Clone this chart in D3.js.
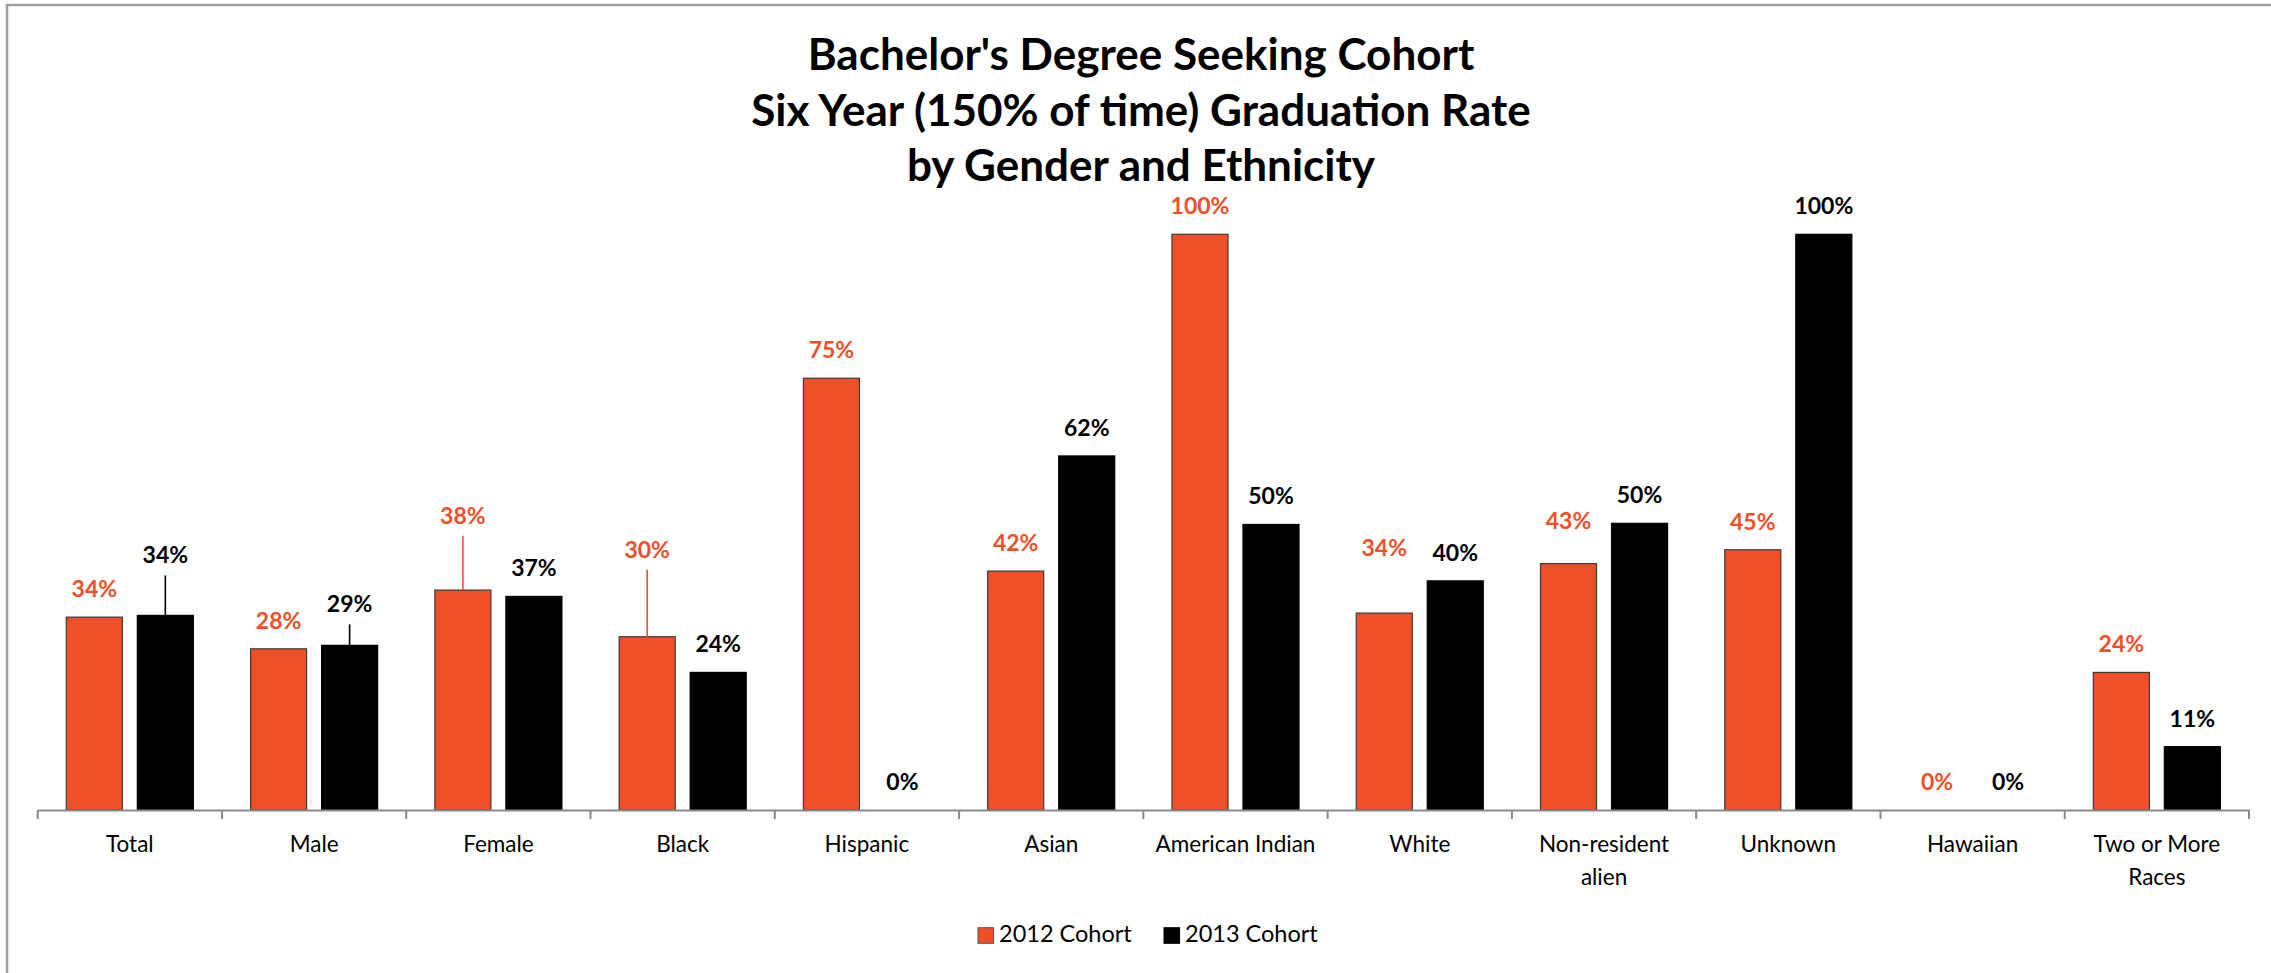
<!DOCTYPE html>
<html>
<head>
<meta charset="utf-8">
<script src="https://cdn.jsdelivr.net/npm/d3@7"></script>
<style>
  html, body { margin: 0; padding: 0; background: #fff; }
  svg { display: block; }
  text { font-family: Lato, "Open Sans", "Liberation Sans", sans-serif; }
</style>
</head>
<body>
<svg id="chart" width="2271" height="973"></svg>
<script>
// ---- data ----
const titleLines = ["Bachelor's Degree Seeking Cohort", "Six Year (150% of time) Graduation Rate", "by Gender and Ethnicity"];
const categories = ["Total", "Male", "Female", "Black", "Hispanic", "Asian", "American Indian", "White", "Non-resident\nalien", "Unknown", "Hawaiian", "Two or More\nRaces"];
const seriesNames = ["2012 Cohort", "2013 Cohort"];
const values2012 = [33.5, 28.0, 38.2, 30.1, 75, 41.5, 100, 34.2, 42.8, 45.2, 0, 23.9];
const values2013 = [33.8, 28.6, 37.1, 23.9, 0, 61.5, 49.6, 39.8, 49.8, 100, 0, 11];
const yDomain = [0, 100];

// ---- styles / layout ----
const colors = { "2012 Cohort": "#F04F28", "2013 Cohort": "#000000" };
const strokes = { "2012 Cohort": "#3a3a3a", "2013 Cohort": "#000000" };
// labels that were dragged above their bars (pixels of lift, whether a leader line is drawn)
const liftedLabels = {
  "2013 Cohort|Total": { lift: 32, leader: true },
  "2013 Cohort|Male": { lift: 13, leader: true },
  "2012 Cohort|Female": { lift: 46, leader: true },
  "2012 Cohort|Black": { lift: 59, leader: true },
  "2012 Cohort|White": { lift: 37, leader: false },
  "2012 Cohort|Non-resident\nalien": { lift: 15, leader: false }
};

const svg = d3.select("#chart");
const W = 2271, H = 973;

// chart frame (right and bottom edges fall outside the picture)
svg.append("rect")
  .attr("x", 7).attr("y", 5)
  .attr("width", W + 20).attr("height", H + 20)
  .attr("fill", "#fff")
  .attr("stroke", "#a0a0a0").attr("stroke-width", 2.5);

const x0 = d3.scaleBand().domain(categories).range([37.7, 2249]).padding(0);
const x1 = d3.scaleBand().domain(seriesNames).range([0, x0.bandwidth()])
  .paddingInner(0.211).paddingOuter(0.403);
const y = d3.scaleLinear().domain(yDomain).range([810, 234.3]);

const data = categories.map((c, i) => ({
  category: c,
  values: [
    { series: seriesNames[0], value: values2012[i] },
    { series: seriesNames[1], value: values2013[i] }
  ]
}));

// title (one text element per line)
svg.append("g").selectAll("text")
  .data(titleLines).join("text")
  .attr("x", 1141)
  .attr("y", (d, i) => 70 + i * 55.5)
  .attr("text-anchor", "middle")
  .attr("font-weight", 700)
  .attr("font-size", 44)
  .attr("fill", "#000")
  .text(d => d);

// bars
const groups = svg.append("g").selectAll("g.cat")
  .data(data).join("g")
  .attr("class", "cat")
  .attr("transform", d => `translate(${x0(d.category)},0)`);

groups.selectAll("rect")
  .data(d => d.values.map(v => Object.assign({ category: d.category }, v)))
  .join("rect")
  .attr("x", d => x1(d.series))
  .attr("width", x1.bandwidth())
  .attr("y", d => y(d.value))
  .attr("height", d => y(0) - y(d.value))
  .attr("fill", d => colors[d.series])
  .attr("stroke", d => d.value > 0 ? strokes[d.series] : "none")
  .attr("stroke-width", 1.2);

// data labels + leader lines
groups.each(function(d) {
  const g = d3.select(this);
  d.values.forEach(v => {
    const key = v.series + "|" + d.category;
    const info = liftedLabels[key];
    const cx = x1(v.series) + x1.bandwidth() / 2;
    const top = y(v.value);
    const baseline = top - 20 - (info ? info.lift : 0);
    if (info && info.leader) {
      g.append("line")
        .attr("x1", cx).attr("x2", cx)
        .attr("y1", baseline + 12).attr("y2", top)
        .attr("stroke", colors[v.series]).attr("stroke-width", 1.6);
    }
    g.append("text")
      .attr("x", cx).attr("y", baseline)
      .attr("text-anchor", "middle")
      .attr("font-weight", 700)
      .attr("font-size", 23)
      .attr("fill", colors[v.series])
      .text(d3.format(".0f")(v.value) + "%");
  });
});

// x axis
const axis = svg.append("g")
  .attr("transform", `translate(0,${y(0)})`)
  .call(d3.axisBottom(x0).tickSize(0).tickPadding(0).tickFormat(""));
axis.select(".domain").attr("stroke", "#8a8a8a").attr("stroke-width", 2.2);

// boundary tick marks
const boundaries = categories.map(c => x0(c)).concat([x0.range()[1]]);
svg.append("g").selectAll("line")
  .data(boundaries).join("line")
  .attr("x1", d => d).attr("x2", d => d)
  .attr("y1", y(0)).attr("y2", y(0) + 9)
  .attr("stroke", "#8a8a8a").attr("stroke-width", 2);

// category labels
axis.selectAll(".tick").each(function(c) {
  const t = d3.select(this).append("text")
    .attr("fill", "#000")
    .attr("font-size", 22.5)
    .attr("text-anchor", "middle");
  c.split("\n").forEach((line, i) => {
    t.append("tspan").attr("x", 0).attr("y", 42 + i * 33).text(line);
  });
});

// legend
const legend = svg.append("g");
const legendPos = [{ sx: 978, tx: 999 }, { sx: 1164, tx: 1185 }];
seriesNames.forEach((s, i) => {
  legend.append("rect")
    .attr("x", legendPos[i].sx).attr("y", 927.7)
    .attr("width", 15.6).attr("height", 15.6)
    .attr("fill", colors[s])
    .attr("stroke", s === seriesNames[0] ? "#555" : "#000").attr("stroke-width", 1);
  legend.append("text")
    .attr("x", legendPos[i].tx).attr("y", 942)
    .attr("font-size", 23.5)
    .attr("fill", "#000")
    .text(s);
});
</script>
</body>
</html>
